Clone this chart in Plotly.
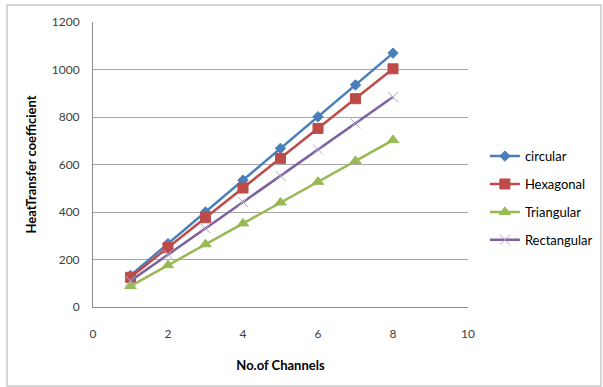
import plotly.graph_objects as go

channels = [1, 2, 3, 4, 5, 6, 7, 8]
circular = [133, 267, 400, 534, 668, 801, 935, 1069]
hexagonal = [125, 250, 376, 501, 626, 752, 877, 1003]
triangular = [88, 176, 264, 352, 440, 527, 615, 703]
rectangular = [110, 221, 331, 442, 552, 663, 773, 884]

series = [
    ("circular", circular, "#4a7ebb", "diamond", 8, "#4a7ebb"),
    ("Hexagonal", hexagonal, "#be4b48", "square", 10, "#be4b48"),
    ("Triangular", triangular, "#98b954", "triangle-up", 10, "#98b954"),
    ("Rectangular", rectangular, "#7d60a0", "x-thin-open", 10, "#b4a7d0"),
]

fig = go.Figure()
for i, (name, vals, color, symbol, size, mcolor) in enumerate(series):
    fig.add_trace(go.Scatter(
        x=channels, y=vals, name=name, mode="lines+markers",
        legendgroup=f"g{i}",
        line=dict(color=color, width=2.5),
        marker=dict(symbol=symbol, size=size, color=mcolor,
                    line=dict(color=mcolor, width=1)),
    ))

tick_font = dict(family="Lato, Open Sans, sans-serif", size=12, color="#404040")
title_font = dict(family="Lato, Open Sans, sans-serif", size=13, color="#000000")

fig.update_layout(
    width=603, height=387,
    margin=dict(l=93, r=135, t=22, b=80, autoexpand=False),
    paper_bgcolor="white", plot_bgcolor="white",
    showlegend=True,
    legend=dict(
        x=1.045, y=0.382, xanchor="left", yanchor="middle",
        font=dict(family="Lato, Open Sans, sans-serif", size=13, color="#000000"),
        tracegroupgap=8, bgcolor="rgba(0,0,0,0)",
    ),
    xaxis=dict(
        range=[0, 10], tickvals=[0, 2, 4, 6, 8, 10],
        showgrid=False, zeroline=False,
        showline=True, linecolor="#8c8c8c", linewidth=1,
        ticks="", ticklabelstandoff=16, tickfont=tick_font,
        title=dict(text="<b>No.of Channels</b>", font=title_font, standoff=20),
    ),
    yaxis=dict(
        range=[0, 1200], tickvals=[0, 200, 400, 600, 800, 1000, 1200],
        showgrid=True, gridcolor="#a6a6a6", gridwidth=1, zeroline=False,
        showline=True, linecolor="#8c8c8c", linewidth=1,
        ticks="", ticklabelstandoff=10, tickfont=tick_font,
        title=dict(text="<b>HeatTransfer coefficient</b>", font=title_font, standoff=12),
    ),
    shapes=[dict(
        type="rect", xref="paper", yref="paper",
        x0=-0.2293, x1=1.3547, y0=-0.277, y1=1.0596,
        line=dict(color="#c8c8c8", width=1.5), fillcolor="rgba(0,0,0,0)",
        layer="below",
    )],
)

fig.write_html("out.html")
